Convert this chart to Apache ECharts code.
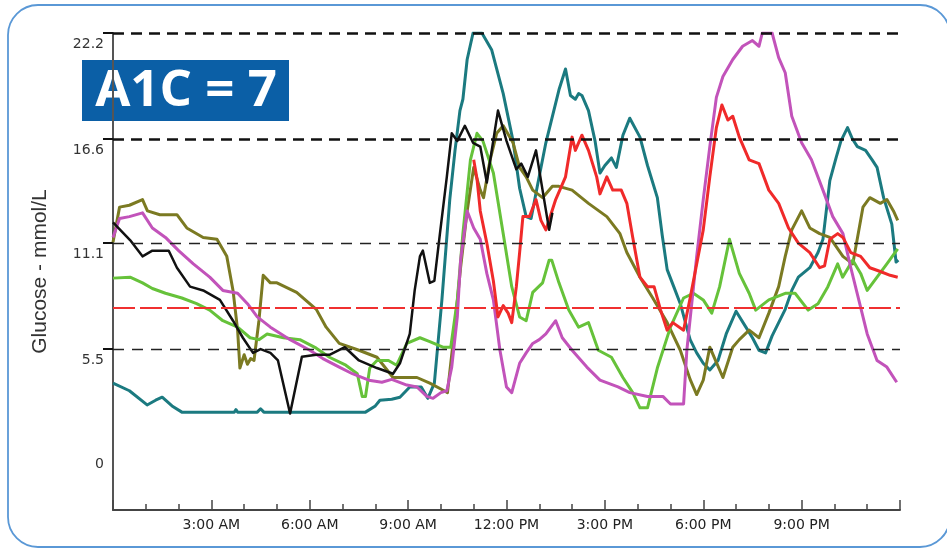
<!DOCTYPE html>
<html><head><meta charset="utf-8">
<script src="https://cdn.jsdelivr.net/npm/echarts@6/dist/echarts.min.js"></script>
<style>html,body{margin:0;padding:0;background:#fff}#c{width:947px;height:549px}</style>
</head><body><div id="c"></div>
<script>
// ---- data (hours since midnight, glucose mmol/L) ----
const yTickValues = [0, 5.5, 11.1, 16.6, 22.2];
const guideLevels = [22.2, 16.6, 11.1, 5.5];
const targetLevel = 7.7;
const xTickLabels = ['', '3:00 AM', '6:00 AM', '9:00 AM', '12:00 PM', '3:00 PM', '6:00 PM', '9:00 PM', ''];

const teal = [[0,3.7],[0.5,3.3],[1.04,2.55],[1.3,2.8],[1.5,2.96],[1.8,2.5],[2.1,2.17],[3,2.17],[3.7,2.17],[3.75,2.3],[3.8,2.17],[4.4,2.17],[4.5,2.35],[4.6,2.17],[5.5,2.17],[7.4,2.17],[7.7,2.17],[8.0,2.5],[8.14,2.8],[8.5,2.85],[8.75,2.96],[9.05,3.5],[9.4,3.5],[9.6,2.9],[9.8,3.7],[10.03,8.1],[10.27,13.4],[10.43,16.0],[10.58,18.1],[10.67,18.7],[10.8,20.8],[10.98,22.2],[11.25,22.2],[11.55,21.3],[11.9,19.0],[12.2,16.5],[12.4,14.0],[12.6,12.5],[12.75,12.4],[12.95,14.2],[13.2,16.4],[13.4,17.8],[13.6,19.2],[13.8,20.3],[13.95,18.9],[14.1,18.7],[14.2,19.0],[14.3,18.9],[14.5,18.1],[14.7,16.5],[14.85,14.8],[15.0,15.2],[15.2,15.6],[15.35,15.1],[15.55,16.8],[15.76,17.7],[16.07,16.7],[16.3,15.2],[16.6,13.5],[16.75,11.5],[16.9,9.7],[17.1,8.8],[17.3,7.9],[17.6,6.0],[17.8,5.3],[18.0,4.75],[18.2,4.4],[18.45,4.9],[18.7,6.3],[19.0,7.5],[19.3,6.66],[19.5,6.1],[19.7,5.44],[19.9,5.3],[20.1,6.2],[20.3,6.9],[20.5,7.6],[20.7,8.6],[20.9,9.3],[21.25,9.8],[21.5,10.6],[21.65,11.3],[21.86,14.4],[22.05,15.6],[22.2,16.5],[22.4,17.2],[22.55,16.6],[22.7,16.2],[22.95,16.0],[23.15,15.5],[23.3,15.1],[23.5,13.5],[23.75,12.1],[23.88,10.1],[23.95,10.2]];

const black = [[0,12.2],[0.52,11.26],[0.9,10.4],[1.2,10.7],[1.7,10.7],[1.95,9.8],[2.35,8.8],[2.75,8.6],[3.26,8.1],[3.66,7.0],[3.96,6.1],[4.27,5.3],[4.5,5.5],[4.8,5.3],[5.03,4.9],[5.4,2.1],[5.76,5.1],[6.2,5.2],[6.6,5.2],[7.07,5.6],[7.5,4.9],[8.05,4.5],[8.54,4.2],[8.75,4.75],[9.05,6.3],[9.2,8.6],[9.36,10.4],[9.45,10.7],[9.66,9.0],[9.8,9.1],[9.97,11.6],[10.18,14.6],[10.33,16.9],[10.5,16.5],[10.73,17.3],[10.98,16.4],[11.2,16.2],[11.4,14.3],[11.55,16.0],[11.74,18.1],[12.0,16.5],[12.3,15.0],[12.45,15.3],[12.65,14.6],[12.9,16.0],[13.1,13.9],[13.3,11.8],[13.4,12.7]];

const olive = [[0,11.15],[0.2,13.0],[0.5,13.1],[0.9,13.4],[1.05,12.8],[1.43,12.6],[1.95,12.6],[2.25,11.9],[2.75,11.4],[3.17,11.3],[3.47,10.4],[3.66,8.6],[3.8,6.5],[3.87,4.5],[4.0,5.2],[4.1,4.7],[4.2,5.0],[4.3,4.9],[4.45,7.0],[4.58,9.4],[4.8,9.0],[5.0,9.0],[5.6,8.5],[6.2,7.6],[6.5,6.66],[6.9,5.8],[7.5,5.44],[8.05,5.07],[8.54,4.0],[9.27,4.0],[9.66,3.7],[10.1,3.3],[10.2,3.2],[10.4,6.3],[10.6,9.8],[10.8,12.8],[11.0,15.1],[11.2,13.9],[11.3,13.5],[11.5,15.5],[11.7,16.9],[11.9,17.3],[12.2,16.4],[12.4,15.1],[12.6,14.6],[12.8,13.9],[13.1,13.5],[13.4,14.1],[13.6,14.1],[14.0,13.9],[14.5,13.2],[15.06,12.5],[15.46,11.6],[15.67,10.6],[16.07,9.3],[16.46,8.2],[16.9,6.9],[17.3,5.44],[17.6,3.9],[17.8,3.1],[18.0,3.86],[18.2,5.6],[18.4,4.8],[18.6,4.0],[18.9,5.6],[19.1,6.0],[19.4,6.5],[19.7,6.1],[20.0,7.4],[20.3,8.8],[20.5,10.4],[20.7,11.8],[21.0,12.8],[21.25,11.9],[21.55,11.6],[21.86,11.4],[22.26,10.4],[22.56,10.0],[22.87,13.0],[23.08,13.5],[23.4,13.2],[23.6,13.4],[23.8,12.8],[23.93,12.3]];

const green = [[0,9.25],[0.52,9.3],[0.9,9.0],[1.2,8.7],[1.6,8.45],[2.1,8.2],[2.55,7.9],[2.95,7.56],[3.35,7.0],[3.8,6.66],[4.18,6.1],[4.45,6.0],[4.7,6.3],[5.2,6.1],[5.7,6.0],[6.2,5.55],[6.6,5.07],[7.1,4.65],[7.45,4.2],[7.6,3.0],[7.7,3.0],[7.83,4.5],[8.05,4.9],[8.4,4.9],[8.65,4.65],[8.96,5.8],[9.36,6.1],[9.66,5.9],[10.06,5.6],[10.3,5.6],[10.5,8.1],[10.67,11.6],[10.9,15.5],[11.1,16.9],[11.28,16.5],[11.6,14.8],[11.9,11.6],[12.16,8.8],[12.4,7.2],[12.6,7.0],[12.8,8.5],[13.1,9.0],[13.3,10.2],[13.38,10.2],[13.6,9.0],[13.9,7.56],[14.2,6.66],[14.5,6.9],[14.8,5.44],[15.2,5.07],[15.55,4.0],[15.85,3.2],[16.07,2.4],[16.3,2.4],[16.6,4.5],[17.0,6.66],[17.4,8.2],[17.7,8.45],[18.0,8.1],[18.26,7.4],[18.5,8.8],[18.8,11.3],[19.1,9.5],[19.4,8.45],[19.6,7.56],[20.0,8.1],[20.5,8.45],[20.8,8.45],[21.2,7.56],[21.5,7.9],[21.8,8.8],[22.1,10.0],[22.25,9.3],[22.56,10.2],[22.8,9.5],[23.0,8.6],[23.3,9.3],[23.6,10.0],[23.93,10.8]];

const magenta = [[0,11.4],[0.2,12.4],[0.5,12.5],[0.9,12.7],[1.2,11.9],[1.6,11.4],[2.0,10.7],[2.45,10.0],[2.95,9.3],[3.35,8.6],[3.8,8.45],[4.1,7.9],[4.4,7.2],[4.8,6.66],[5.4,6.0],[6.0,5.44],[6.4,5.0],[6.9,4.55],[7.3,4.2],[7.8,3.86],[8.2,3.75],[8.5,3.9],[8.96,3.6],[9.27,3.5],[9.57,3.0],[9.76,2.9],[10.0,3.2],[10.18,3.3],[10.33,4.55],[10.5,7.2],[10.6,10.2],[10.8,12.8],[11.0,11.9],[11.2,11.3],[11.4,9.5],[11.6,8.1],[11.8,5.44],[12.0,3.5],[12.16,3.2],[12.4,4.75],[12.6,5.3],[12.8,5.8],[13.0,6.0],[13.2,6.3],[13.5,7.0],[13.7,6.1],[14.0,5.44],[14.45,4.55],[14.85,3.86],[15.4,3.5],[15.76,3.2],[16.3,3.0],[16.77,3.0],[17.0,2.6],[17.4,2.6],[17.5,5.44],[17.8,10.4],[18.0,13.4],[18.2,16.2],[18.4,18.8],[18.6,19.9],[18.9,20.8],[19.2,21.5],[19.5,21.8],[19.7,21.5],[19.8,22.2],[20.1,22.2],[20.3,20.9],[20.5,20.1],[20.7,17.8],[21.0,16.4],[21.3,15.5],[21.65,13.9],[21.95,12.5],[22.26,11.6],[22.5,9.8],[22.8,7.7],[23.0,6.3],[23.3,4.9],[23.6,4.55],[23.9,3.75]];

const red = [[11.0,15.5],[11.1,14.5],[11.2,12.8],[11.4,11.1],[11.6,9.1],[11.74,7.2],[11.9,7.8],[12.05,7.4],[12.16,6.9],[12.3,8.8],[12.4,10.6],[12.5,12.5],[12.7,12.5],[12.9,13.4],[13.05,12.3],[13.2,11.8],[13.35,12.6],[13.5,13.4],[13.8,14.6],[14.0,16.7],[14.1,16.0],[14.3,16.8],[14.5,16.0],[14.75,14.6],[14.85,13.7],[15.06,14.6],[15.24,13.9],[15.5,13.9],[15.67,13.2],[15.85,11.4],[16.07,9.3],[16.3,8.8],[16.5,8.8],[16.7,7.56],[16.9,6.5],[17.07,6.9],[17.4,6.5],[17.6,8.2],[17.8,10.0],[18.0,11.8],[18.2,14.6],[18.4,17.2],[18.57,18.4],[18.75,17.6],[18.9,17.8],[19.1,16.7],[19.4,15.5],[19.7,15.3],[20.0,13.9],[20.3,13.2],[20.6,11.9],[20.9,11.1],[21.25,10.6],[21.55,9.8],[21.7,9.9],[21.86,11.3],[22.1,11.6],[22.26,11.4],[22.5,10.6],[22.8,10.4],[23.08,9.8],[23.4,9.6],[23.7,9.4],[23.93,9.3]];

// ---- chart ----
const chart = echarts.init(document.getElementById('c'));
function lineSeries(name, data, color, width) {
  return { name, type: 'line', data, showSymbol: false, symbol: 'none', smooth: false,
    lineStyle: { color, width, join: 'round' }, silent: true, animation: false };
}
const guideStyles = [
  { color: '#111', width: 2.5, type: [11, 7] },
  { color: '#111', width: 2.5, type: [11, 7] },
  { color: '#222', width: 1.3, type: [11, 8] },
  { color: '#222', width: 1.3, type: [11, 8] }
];
const markData = guideLevels.map((v, i) => ({ yAxis: v, lineStyle: guideStyles[i] }));
markData.push({ yAxis: targetLevel, lineStyle: { color: '#f03030', width: 2, type: [22, 5] } });

chart.setOption({
  animation: false,
  backgroundColor: '#fff',
  grid: { left: 113, right: 47, top: 33, bottom: 39, containLabel: false },
  xAxis: {
    type: 'value', min: 0, max: 24, interval: 3,
    axisLine: { onZero: false, lineStyle: { color: '#444', width: 2 } },
    axisTick: { show: true, inside: true, length: 10, lineStyle: { color: '#444', width: 1.5 } },
    minorTick: { show: true, splitNumber: 3, length: 6, lineStyle: { color: '#444', width: 1.5 } },
    splitLine: { show: false },
    axisLabel: { formatter: v => xTickLabels[Math.round(v / 3)] || '', fontFamily: 'DejaVu Sans', fontSize: 14, color: '#222', margin: 8 }
  },
  yAxis: {
    type: 'value', min: -3, max: 22.2,
    name: 'Glucose - mmol/L', nameLocation: 'middle', nameGap: 62, nameRotate: 90,
    nameTextStyle: { fontFamily: 'Liberation Sans', fontSize: 21, color: '#333' },
    axisLine: { show: true, onZero: false, lineStyle: { color: '#555', width: 2 } },
    axisTick: { show: true, customValues: guideLevels, length: 10, lineStyle: { color: '#111', width: 2 } },
    splitLine: { show: false },
    axisLabel: { customValues: yTickValues, formatter: v => String(v), fontFamily: 'DejaVu Sans', fontSize: 14, color: '#333', margin: 9, verticalAlign: 'top', padding: [4, 0, 0, 0] }
  },
  series: [
    { type: 'line', data: [], silent: true, markLine: { silent: true, symbol: 'none', label: { show: false }, data: markData, animation: false } },
    lineSeries('teal', teal, '#1b7a80', 3),
    lineSeries('olive', olive, '#7b7a22', 3),
    lineSeries('green', green, '#66c23a', 3),
    lineSeries('magenta', magenta, '#c253ba', 3),
    lineSeries('red', red, '#f02a2a', 3),
    lineSeries('black', black, '#111111', 2.5)
  ],
  graphic: [
    { type: 'rect', silent: true, shape: { x: 8, y: 5, width: 942, height: 542, r: 30 }, style: { fill: 'none', stroke: '#5a98d6', lineWidth: 1.8 } },
    { type: 'rect', silent: true, shape: { x: 82, y: 60, width: 207, height: 61 }, style: { fill: '#0b5fa6' } },
    { type: 'text', silent: true, x: 186, y: 91, style: { text: 'A1C = 7', fill: '#ffffff', fontFamily: 'Open Sans', fontWeight: 'bold', fontSize: 51, align: 'center', verticalAlign: 'middle' } }
  ]
});
</script></body></html>
